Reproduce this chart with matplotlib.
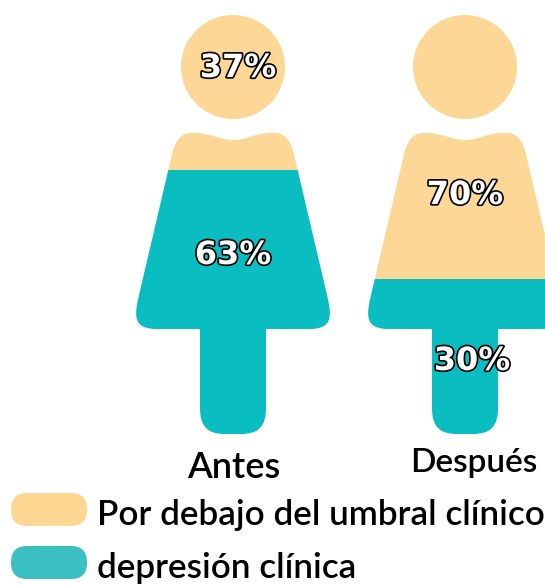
import matplotlib
matplotlib.use("Agg")
import matplotlib.pyplot as plt
import matplotlib.patheffects as pe
from matplotlib.path import Path
from matplotlib.patches import PathPatch, Rectangle, FancyBboxPatch

# values
Categories = ["Antes", "Después"]
BelowPct = [37, 70]
DepressionPct = [63, 30]
TealHeight = [63, 37]  # how high the teal really reaches in each figure, not the same as the label for Después
LegendLabels = ["Por debajo del umbral clínico", "depresión clínica"]

Tan = "#FDD795"
Teal = "#0ABDC0"
LegendTan = "#FED893"
LegendTeal = "#3BBFC1"

Centers = [233, 465]
HeadY = 67
HeadR = 52
Top = 15
Bottom = 434


def personPath(cx):
    head = Path.circle((cx, HeadY), HeadR)
    C3 = Path.CURVE4
    L = Path.LINETO
    steps = [
        (Path.MOVETO, 0, 140),
        (C3, -14, 140), (C3, -22, 133), (C3, -38, 133),
        (L, -42, 133),
        (C3, -52, 133), (C3, -57, 141), (C3, -60, 150),
        (L, -94, 295),
        (C3, -99, 316), (C3, -100, 329), (C3, -76, 329),
        (L, -33, 329),
        (L, -33, 408),
        (C3, -33, 426), (C3, -26, 434), (C3, -8, 434),
        (L, 8, 434),
        (C3, 26, 434), (C3, 33, 426), (C3, 33, 408),
        (L, 33, 329),
        (L, 76, 329),
        (C3, 100, 329), (C3, 99, 316), (C3, 94, 295),
        (L, 60, 150),
        (C3, 57, 141), (C3, 52, 133), (C3, 42, 133),
        (L, 38, 133),
        (C3, 22, 133), (C3, 14, 140), (C3, 0, 140),
    ]
    body = Path([(cx + s[1], s[2]) for s in steps] + [(cx, 140)],
                [s[0] for s in steps] + [Path.CLOSEPOLY])
    return Path.make_compound_path(head, body)


def drawPerson(ax, cx, tealHeight):
    level = Bottom - tealHeight / 100 * (Bottom - Top)
    shape = personPath(cx)
    parts = [(Tan, 0, level), (Teal, level, 585)]
    for colour, y0, y1 in parts:
        patch = PathPatch(shape, facecolor=colour, edgecolor="none", zorder=2)
        ax.add_patch(patch)
        clip = Rectangle((0, y0), 600, y1 - y0, transform=ax.transData)
        patch.set_clip_path(clip)


def pctLabel(ax, x, y, value):
    ax.text(x, y, str(value) + "%", ha="center", va="center_baseline", fontsize=23,
            family="DejaVu Sans", fontweight="bold", color="white", zorder=5,
            path_effects=[pe.withStroke(linewidth=2.4, foreground="black")])


fig = plt.figure(figsize=(5.45, 5.85), dpi=100)
ax = fig.add_axes([0, 0, 1, 1])
ax.set_xlim(0, 545)
ax.set_ylim(585, 0)
ax.axis("off")

for i in range(len(Categories)):
    drawPerson(ax, Centers[i], TealHeight[i])

pctLabel(ax, 238, 65, BelowPct[0])
pctLabel(ax, 233, 252, DepressionPct[0])
pctLabel(ax, 465, 192, BelowPct[1])
pctLabel(ax, 472, 358, DepressionPct[1])

ax.text(234, 467, Categories[0], ha="center", va="center", fontsize=26,
        family="Lato", fontweight="semibold", color="black")
ax.text(474, 463, Categories[1], ha="center", va="center", fontsize=24,
        family="Lato", fontweight="semibold", color="black")

pills = [(493, LegendTan), (546, LegendTeal)]
for (y, colour), label in zip(pills, LegendLabels):
    ax.add_patch(FancyBboxPatch((27, y + 16), 44, 1, boxstyle="round,pad=16,rounding_size=16",
                                facecolor=colour, edgecolor="none"))
    ax.text(97, y + 22, label, ha="left", va="center", fontsize=25.3,
            family="Lato", fontweight="semibold", color="black")

fig.savefig("out.png", dpi=100)
